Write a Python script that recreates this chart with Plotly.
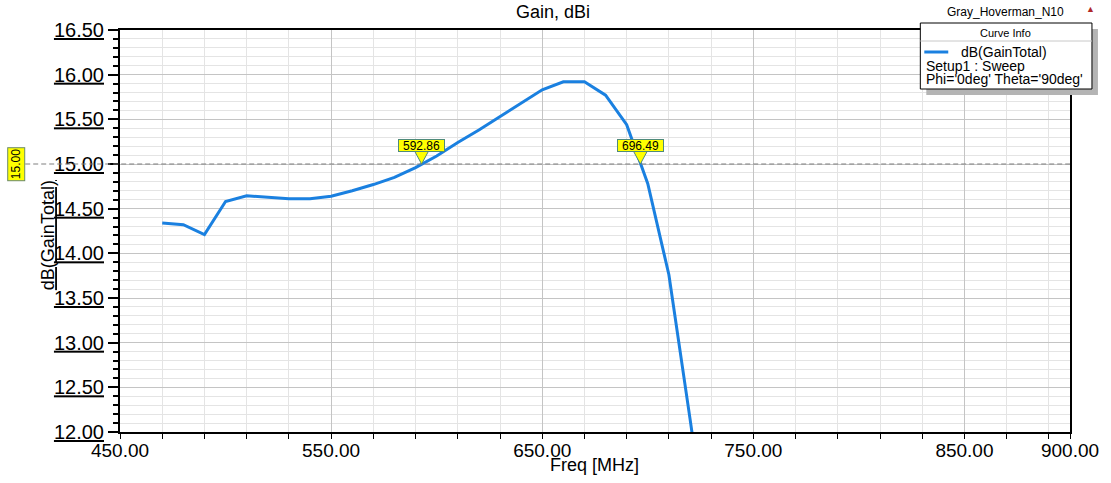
import plotly.graph_objects as go

# curve values
freq_mhz = [470, 480, 490, 500, 510, 520, 530, 540, 550, 560, 570, 580, 590,
            600, 610, 620, 630, 640, 650, 660, 670, 680, 690, 700, 710, 720, 730]
gain_dbi = [14.34, 14.32, 14.21, 14.58, 14.645, 14.63, 14.61, 14.61, 14.64, 14.70,
            14.77, 14.85, 14.96, 15.09, 15.24, 15.38, 15.53, 15.68, 15.83, 15.92,
            15.92, 15.77, 15.44, 14.78, 13.76, 12.15, 10.50]

marker_freqs = [592.86, 696.49]
marker_level = 15.0

x_tick_vals = [450, 550, 650, 750, 850, 900]
y_tick_vals = [12.0, 12.5, 13.0, 13.5, 14.0, 14.5, 15.0, 15.5, 16.0, 16.5]

FONT = "Arial, Liberation Sans, sans-serif"
BLUE = "#1a80e0"
W, H = 1111, 483
L, R, T, B = 120, 1072, 30, 432


def px(x):
    return (x - L) / (R - L)


def py(y):
    return (B - y) / (B - T)


def label(x, y, text, size, anchor="center", **kw):
    return dict(xref="paper", yref="paper", x=px(x), y=py(y), text=text,
                xanchor=anchor, yanchor="middle", showarrow=False,
                font=dict(family=FONT, size=size, color="black"), **kw)


fig = go.Figure()

fig.add_trace(go.Scatter(
    x=freq_mhz, y=gain_dbi, mode="lines",
    line=dict(color=BLUE, width=3),
    showlegend=False, hoverinfo="x+y"
))

shapes = []
annotations = []

# reference level line
shapes.append(dict(type="line", xref="paper", yref="y",
                   x0=px(25), x1=1, y0=marker_level, y1=marker_level,
                   line=dict(color="#808080", width=1.2, dash="5px,3px"),
                   layer="above"))

annotations.append(dict(xref="paper", yref="y", x=px(16), y=marker_level,
                        xanchor="center", yanchor="middle",
                        text="%.2f" % marker_level, textangle=-90, showarrow=False,
                        font=dict(family=FONT, size=12, color="black"),
                        bgcolor="#ffff00", bordercolor="#6a8a6a", borderwidth=1, borderpad=1))

# markers at the crossings
for f in marker_freqs:
    shapes.append(dict(type="path", xref="x", yref="y",
                       xsizemode="pixel", ysizemode="pixel",
                       xanchor=f, yanchor=marker_level,
                       path="M0,0 L-7,13 L7,13 Z",
                       fillcolor="#ffff00", line=dict(color="#4f8a7a", width=1),
                       layer="above"))
    annotations.append(dict(xref="x", yref="y", x=f, y=marker_level, yshift=19,
                            xanchor="center", yanchor="middle",
                            text="%.2f" % f, showarrow=False,
                            width=45, height=11, align="center",
                            font=dict(family=FONT, size=12, color="black"),
                            bgcolor="#ffff00", bordercolor="#4f8a7a",
                            borderwidth=1, borderpad=0))

# curve info box
shapes.append(dict(type="rect", xref="paper", yref="paper",
                   x0=px(928), x1=px(1100), y0=py(95), y1=py(29),
                   fillcolor="#b4b4b4", line=dict(width=0), layer="above"))
shapes.append(dict(type="rect", xref="paper", yref="paper",
                   x0=px(922), x1=px(1094), y0=py(89), y1=py(23),
                   fillcolor="white", line=dict(color="black", width=1), layer="above"))
shapes.append(dict(type="line", xref="paper", yref="paper",
                   x0=px(922), x1=px(1094), y0=py(41), y1=py(41),
                   line=dict(color="#c8c8c8", width=1), layer="above"))
shapes.append(dict(type="line", xref="paper", yref="paper",
                   x0=px(926), x1=px(950), y0=py(52), y1=py(52),
                   line=dict(color=BLUE, width=3), layer="above"))

annotations += [
    label(1007, 33, "Curve Info", 11),
    label(961, 52, "dB(GainTotal)", 14, anchor="left"),
    label(926, 65.5, "Setup1 : Sweep", 14, anchor="left"),
    label(926, 79, "Phi='0deg' Theta='90deg'", 14, anchor="left"),
    label(1007, 12, "Gray_Hoverman_N10", 12),
    dict(xref="paper", yref="paper", x=px(1093), y=py(9), text="▲",
         xanchor="center", yanchor="middle", showarrow=False,
         font=dict(family=FONT, size=9, color="#b02828")),
    label(554, 12, "Gain, dBi", 18),
    label(595, 465, "Freq [MHz]", 18),
    label(48, 235, "<u>dB(GainTotal)</u>", 18, textangle=-90),
]

fig.update_layout(
    width=W, height=H,
    margin=dict(l=L, r=W - R, t=T, b=H - B),
    paper_bgcolor="white", plot_bgcolor="white",
    showlegend=False,
    shapes=shapes,
    annotations=annotations,
    xaxis=dict(
        range=[450, 900], tickvals=x_tick_vals,
        ticktext=["%.2f" % v for v in x_tick_vals],
        tickfont=dict(family=FONT, size=19, color="black"),
        ticks="outside", ticklen=5, tickwidth=1, tickcolor="black",
        ticklabelstandoff=-5,
        showgrid=True, gridcolor="#c4c4c4", gridwidth=1,
        minor=dict(tick0=450, dtick=20, ticks="outside", ticklen=5,
                   tickcolor="black", showgrid=True, gridcolor="#e4e4e4"),
        showline=True, linecolor="black", linewidth=2, mirror=True,
        zeroline=False, fixedrange=True,
    ),
    yaxis=dict(
        range=[12, 16.5], tickvals=y_tick_vals,
        ticktext=["<u>%.2f</u>" % v for v in y_tick_vals],
        tickfont=dict(family=FONT, size=20, color="black"),
        ticks="outside", ticklen=10, tickwidth=2, tickcolor="black",
        showgrid=True, gridcolor="#c4c4c4", gridwidth=1,
        minor=dict(dtick=0.1, ticks="outside", ticklen=5, tickwidth=2,
                   tickcolor="black", showgrid=True, gridcolor="#e4e4e4"),
        showline=True, linecolor="black", linewidth=2, mirror=True,
        zeroline=False, fixedrange=True,
    ),
)

fig.write_html("out.html", config={"displayModeBar": False},
               post_script="document.body.style.margin='0px';")
